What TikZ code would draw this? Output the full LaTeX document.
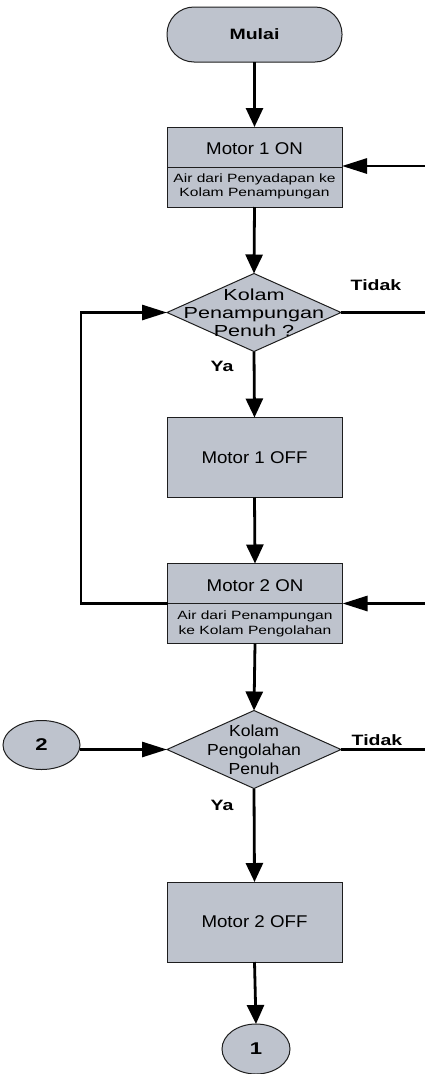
\documentclass[tikz,border=0pt]{standalone}
\usepackage{fontspec}
\setmainfont{Liberation Sans}
\newfontfamily\fr[FakeStretch=1.1]{Liberation Sans}
\newfontfamily\fw[FakeStretch=1.3]{Liberation Sans}
\newfontfamily\fx[FakeStretch=1.35]{Liberation Sans}
\usetikzlibrary{shapes.geometric,arrows.meta}
\definecolor{boxfill}{RGB}{190,195,205}
\definecolor{edgecol}{RGB}{30,30,30}
\tikzset{
  x=1pt, y=1pt,
  shp/.style={draw=edgecol, line width=1pt, fill=boxfill, inner sep=0pt, outer sep=0pt},
  procbox/.style={shp, rectangle, minimum width=175pt, minimum height=80pt},
  termbox/.style={shp, rectangle, rounded corners=27pt, minimum width=175pt, minimum height=55pt},
  decbox/.style={shp, diamond, minimum width=174pt, minimum height=78pt},
  conbox/.style={shp, ellipse},
  maintxt/.style={inner sep=0pt, align=center, font=\fr\fontsize{17}{20}\selectfont},
  smalltxt/.style={inner sep=0pt, align=center, font=\fw\fontsize{12}{14.5}\selectfont},
  lbltxt/.style={inner sep=0pt, font=\fw\bfseries\fontsize{15}{17}\selectfont},
  numtxt/.style={inner sep=0pt, font=\fw\bfseries\fontsize{17}{19}\selectfont},
  vline/.style={line width=2.8pt, -{Triangle[length=19pt,width=17pt]}},
  hline/.style={line width=2.8pt, -{Triangle[length=25pt,width=15pt]}},
  pline/.style={line width=2.8pt},
}
\begin{document}
\begin{tikzpicture}
\useasboundingbox (0,0) rectangle (425,-1074);
% nodes
\node[termbox] (mulai) at (254.5,-34.5) {};
\node[lbltxt] (mulait) at (mulai.center) {Mulai};

\node[procbox] (m1on) at (254.5,-167) {};
\draw[edgecol, line width=1pt] (m1on.west) -- (m1on.east);
\node[maintxt] (m1ont) at (254.5,-149) {Motor 1 ON};
\node[smalltxt] (m1ons) at (254.5,-186.5) {Air dari Penyadapan ke\\Kolam Penampungan};

\node[decbox] (d1) at (254,-312.5) {};
\node[inner sep=0pt, align=center, font=\fx\fontsize{16}{18}\selectfont] (d1t) at (d1.center) {Kolam\\Penampungan\\Penuh ?};
\node[lbltxt] (tidak1) at (376,-285) {Tidak};
\node[lbltxt] (ya1) at (222,-366) {Ya};

\node[procbox] (m1off) at (254.5,-457.5) {};
\node[maintxt] (m1offt) at (m1off.center) {Motor 1 OFF};

\node[procbox] (m2on) at (255,-603.5) {};
\draw[edgecol, line width=1pt] (m2on.west) -- (m2on.east);
\node[maintxt] (m2ont) at (255,-586) {Motor 2 ON};
\node[smalltxt] (m2ons) at (255,-624) {Air dari Penampungan\\ke Kolam Pengolahan};

\node[decbox] (d2) at (254,-749.5) {};
\node[inner sep=0pt, align=center, font=\fr\fontsize{16}{19}\selectfont] (d2t) at (d2.center) {Kolam\\Pengolahan\\Penuh};
\node[lbltxt] (tidak2) at (377,-740) {Tidak};
\node[lbltxt] (ya2) at (222,-805) {Ya};

\node[conbox, minimum width=77pt, minimum height=49pt] (c2) at (41.5,-745) {};
\node[numtxt] (c2t) at (c2.center) {2};

\node[procbox] (m2off) at (254.5,-922) {};
\node[maintxt] (m2offt) at (m2off.center) {Motor 2 OFF};

\node[conbox, minimum width=68pt, minimum height=50pt] (c1) at (256,-1049) {};
\node[numtxt] (c1t) at (c1.center) {1};

% free ends
\coordinate (r1a) at (425,-166);
\coordinate (r1b) at (425,-312.5);
\coordinate (r2a) at (425,-603.5);
\coordinate (r2b) at (425,-749.5);
\coordinate (lp) at (81,-603.5);

% connectors
\draw[vline] (mulai.south) -- (m1on.north);
\draw[vline] (m1on.south) -- (d1.north);
\draw[vline] (d1.south) -- (m1off.north);
\draw[vline] (m1off.south) -- (m2on.north);
\draw[vline] (m2on.south) -- (d2.north);
\draw[vline] (d2.south) -- (m2off.north);
\draw[vline] (m2off.south) -- (c1.north);

\draw[hline] (r1a) -- (m1on.east |- r1a);
\draw[pline] (d1.east) -- (r1b);
\draw[hline] (m2on.west) -- (lp) |- (d1.west);
\draw[hline] (r2a) -- (m2on.east);
\draw[hline] (c2.east |- d2.west) -- (d2.west);
\draw[pline] (d2.east) -- (r2b);
\end{tikzpicture}
\end{document}
